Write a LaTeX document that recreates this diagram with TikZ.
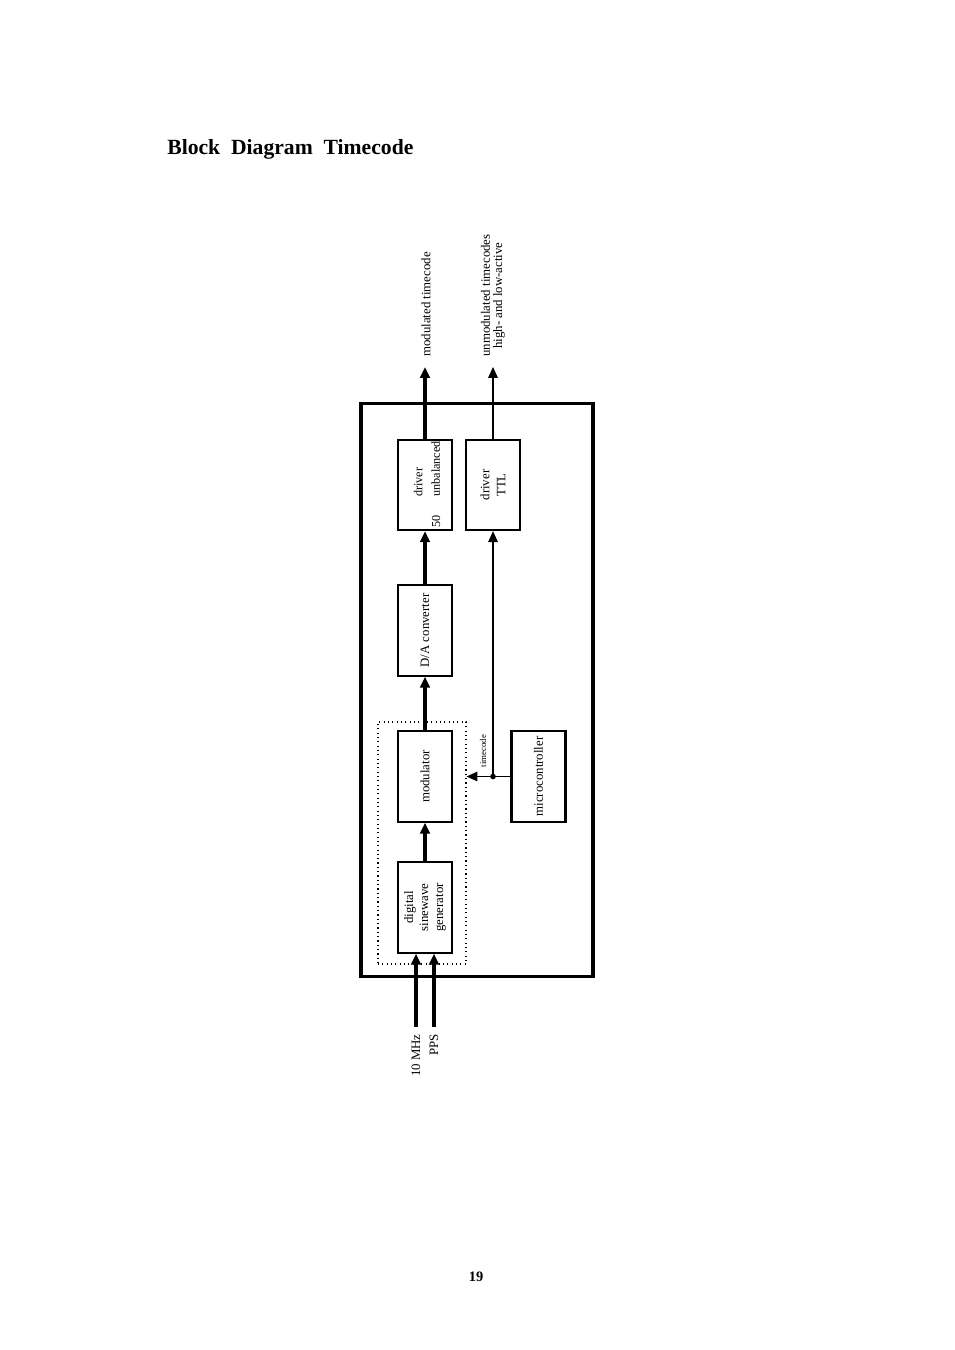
\documentclass[tikz,border=0pt]{standalone}
\usepackage{fontspec}
\setmainfont{Liberation Serif}
\usetikzlibrary{arrows.meta}
\begin{document}
\begin{tikzpicture}[x=0.6237pt,y=-0.6237pt,
  blk/.style={draw,line width=1.3pt,rotate=90,minimum width=56.3pt,minimum height=33.7pt,
    inner sep=0pt,align=center,font=\fontsize{8}{10}\selectfont},
  thk/.style={line width=1.9pt},
  thn/.style={line width=0.7pt},
  tip/.style={-{Triangle[length=6.8pt,width=6pt]}},
  lbl/.style={rotate=90,inner sep=0pt,align=center,font=\fontsize{8}{9.5}\selectfont}]
\useasboundingbox (0,0) rectangle (954,1350);
% title and page number
\node[anchor=base west,inner sep=0pt,font=\fontsize{13.5}{16}\bfseries\selectfont] (title) at (167,155) {Block\ \ Diagram\ \ Timecode};
\node[inner sep=0pt,font=\fontsize{9}{11}\bfseries\selectfont] (page) at (476,1277) {19};
% outer box
\node[draw,line width=1.9pt,minimum width=144.7pt,minimum height=356.8pt,inner sep=0pt] (outer) at (477,690) {};
% dotted box
\node[draw,dotted,line width=0.7pt,minimum width=54.9pt,minimum height=150.9pt,inner sep=0pt] (dot) at (422,843) {};
% blocks
\node[blk] (drv) at (425,485) {};
\node[lbl,anchor=west,align=left,font=\fontsize{7.6}{11}\selectfont] (drvt) at (427,497) {driver\\unbalanced};
\node[lbl,anchor=west,font=\fontsize{7.6}{9}\selectfont] (ohm) at (436,528) {50};
\node[blk] (ttl) at (493,485) {driver\\TTL};
\node[blk] (da) at (425,630.5) {D/A converter};
\node[blk] (mod) at (425,776.5) {modulator};
\node[blk] (mc) at (538.5,776.5) {microcontroller};
\node[blk,font=\fontsize{8}{9.4}\selectfont] (sine) at (425,907.5) {digital\\sinewave\\generator};
% outputs
\coordinate (o1) at (425,367);
\coordinate (o2) at (493,367);
\draw[thk,tip] (drv.east) -- (o1);
\draw[thn,tip] (ttl.east) -- (o2);
\node[lbl,anchor=west] (l1) at (426,357) {modulated timecode};
\node[lbl,anchor=west,font=\fontsize{8}{7.6}\selectfont] (l2) at (493,357) {unmodulated timecodes\\high- and low-active};
% chain
\draw[thk,tip] (da.east) -- (drv.west);
\draw[thk,tip] (mod.east) -- (da.west);
\draw[thk,tip] (sine.east) -- (mod.west);
% inputs
\coordinate (i1) at (416,1027);
\coordinate (i2) at (434,1027);
\draw[thk,tip] (i1) -- (i1 |- sine.west);
\draw[thk,tip] (i2) -- (i2 |- sine.west);
\node[lbl,anchor=east] (l3) at (416,1034) {10 MHz};
\node[lbl,anchor=east] (l4) at (434,1034) {PPS};
% microcontroller timecode
\coordinate (j) at (ttl.west |- mc.north);
\draw[thn,tip] (mc.north) -- (dot.east |- mc.north);
\draw[thn,tip] (j) -- (ttl.west);
\fill (j) circle (2.8);
\node[lbl,font=\fontsize{5.5}{6}\selectfont] (tc) at (483,751) {timecode};
\end{tikzpicture}
\end{document}
